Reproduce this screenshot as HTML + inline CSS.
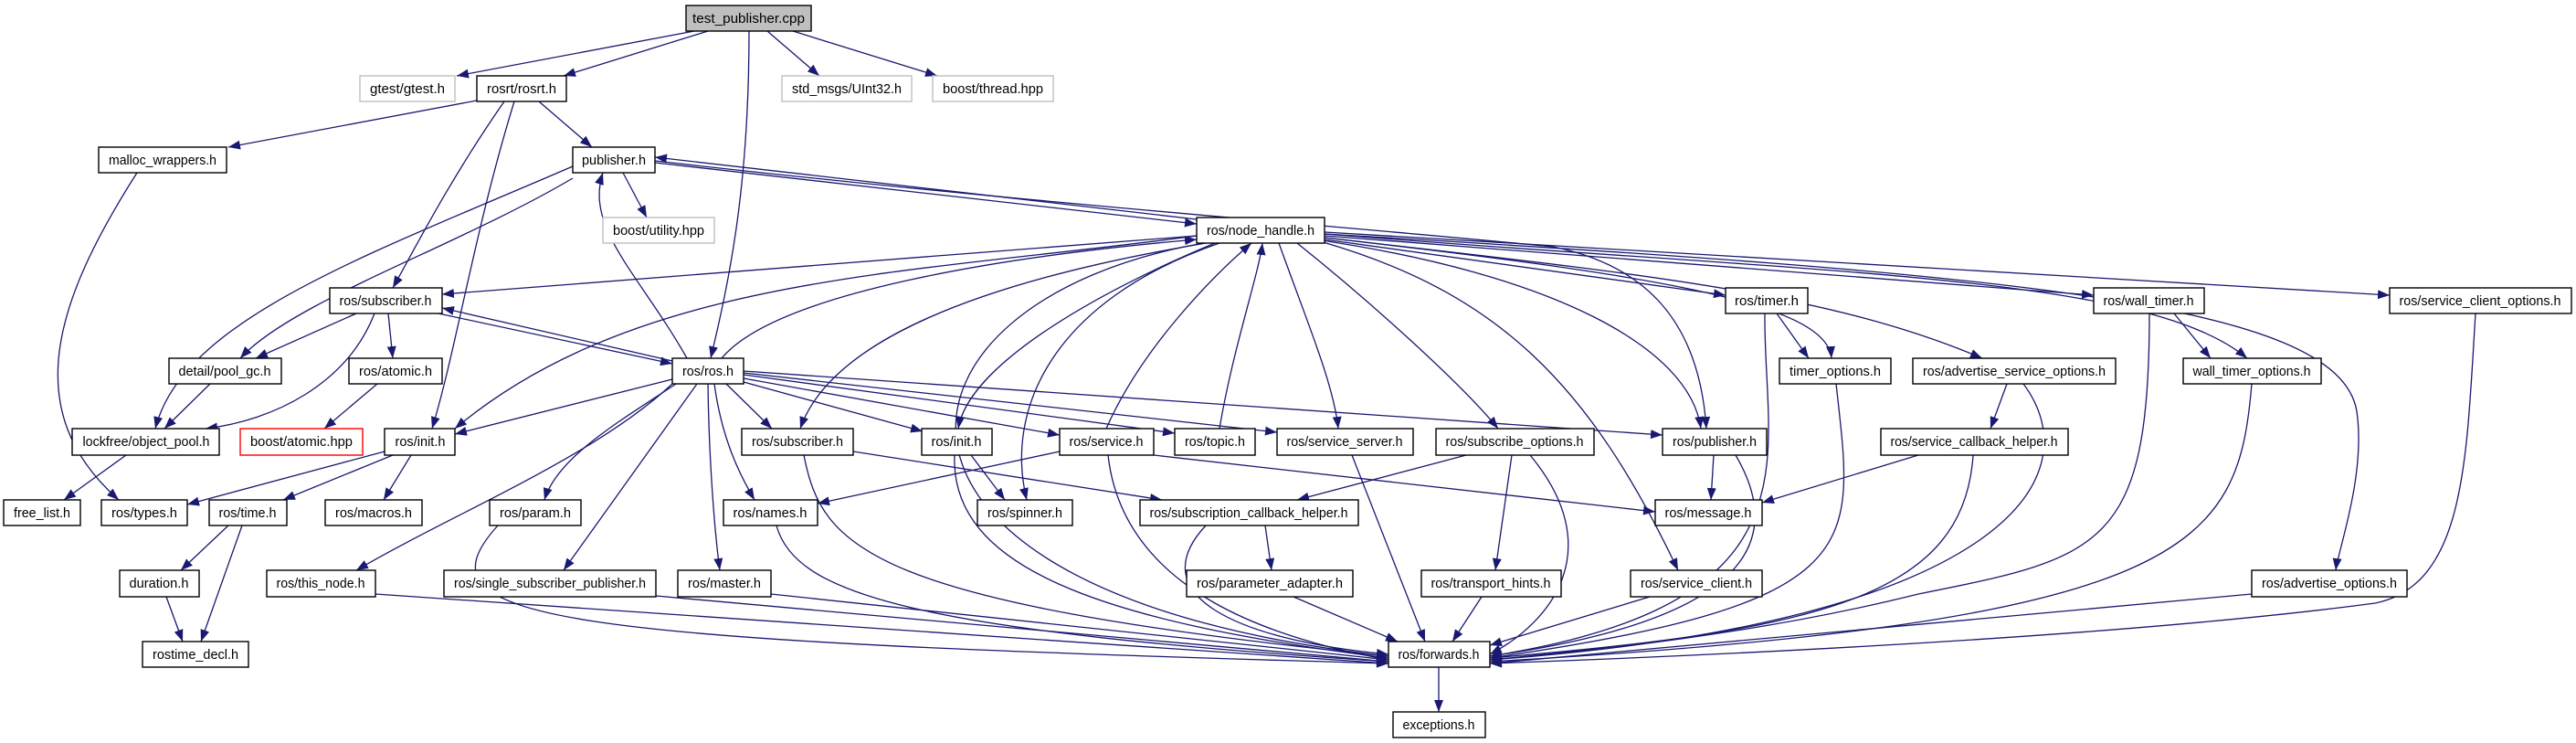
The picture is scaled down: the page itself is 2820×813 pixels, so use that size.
<!DOCTYPE html>
<html><head><meta charset="utf-8"><style>
html,body{margin:0;padding:0;background:#fff;}
svg{display:block;}
text{font-family:"Liberation Sans",sans-serif;font-size:15px;fill:#000;}
.e{fill:none;stroke:#191970;stroke-width:1.3;marker-end:url(#a);}
.n{fill:#fff;stroke:#000;stroke-width:1.4;}
.g{fill:#fff;stroke:#bfbfbf;stroke-width:1.4;}
</style></head><body>
<svg width="2820" height="813" viewBox="0 0 2820 813" xmlns="http://www.w3.org/2000/svg">
<defs><marker id="a" markerUnits="userSpaceOnUse" markerWidth="14" markerHeight="10" refX="13" refY="5" orient="auto"><path d="M0,0 L13,5 L0,10 z" fill="#191970"/></marker></defs>
<g>
<path class="e" d="M760,34 L500,83"/>
<path class="e" d="M775,34 L617,83"/>
<path class="e" d="M820,34 C820,200 800,300 778,392"/>
<path class="e" d="M840,34 L897,83"/>
<path class="e" d="M868,34 L1026,83"/>
<path class="e" d="M522,110 L250,161"/>
<path class="e" d="M590,111 L648,161"/>
<path class="e" d="M552,111 C490,200 450,280 430,315"/>
<path class="e" d="M563,111 C520,250 500,380 473,469"/>
<path class="e" d="M150,189 C60,330 20,450 130,547"/>
<path class="e" d="M682,189 L708,238"/>
<path class="e" d="M717,178 L1310,245"/>
<path class="e" d="M1310,240 L717,172"/>
<path class="e" d="M627,195 C500,270 320,330 263,392"/>
<path class="e" d="M627,182 C400,280 200,350 170,469"/>
<path class="e" d="M717,176 C1100,220 1500,250 1700,270 C1800,290 1860,350 1868,469"/>
<path class="e" d="M1310,258 L484,322"/>
<path class="e" d="M790,392 C850,320 1100,280 1310,262"/>
<path class="e" d="M1310,258 C1000,300 700,300 498,469"/>
<path class="e" d="M1320,266 C1000,320 900,400 876,469"/>
<path class="e" d="M1330,266 C1200,320 1060,400 1049,469"/>
<path class="e" d="M1335,266 C1150,330 1100,450 1124,547"/>
<path class="e" d="M1318,266 C950,330 900,650 1520,718"/>
<path class="e" d="M1211,469 C1250,380 1330,300 1370,266"/>
<path class="e" d="M1335,469 C1350,380 1378,300 1382,266"/>
<path class="e" d="M1400,266 C1430,350 1460,420 1465,469"/>
<path class="e" d="M1420,266 C1500,330 1600,420 1640,469"/>
<path class="e" d="M1440,262 C1700,300 1850,380 1862,469"/>
<path class="e" d="M1445,264 C1640,320 1740,420 1837,624"/>
<path class="e" d="M1450,262 L1889,323"/>
<path class="e" d="M1450,260 C1800,300 2000,330 2005,392"/>
<path class="e" d="M1450,260 C1800,300 2000,320 2170,392"/>
<path class="e" d="M1450,258 L2292,323"/>
<path class="e" d="M1450,256 C2000,300 2350,300 2460,392"/>
<path class="e" d="M1450,256 C2200,300 2560,330 2580,450 C2590,520 2560,600 2557,624"/>
<path class="e" d="M1450,254 L2616,323"/>
<path class="e" d="M390,343 L280,392"/>
<path class="e" d="M425,343 L430,392"/>
<path class="e" d="M410,343 C380,420 300,460 225,469"/>
<path class="e" d="M480,343 L736,398"/>
<path class="e" d="M736,395 L484,337"/>
<path class="e" d="M230,420 L180,469"/>
<path class="e" d="M413,420 L355,469"/>
<path class="e" d="M138,498 L70,547"/>
<path class="e" d="M752,392 C700,300 640,250 660,189"/>
<path class="e" d="M736,415 L498,475"/>
<path class="e" d="M795,420 L845,469"/>
<path class="e" d="M814,418 L1010,472"/>
<path class="e" d="M814,414 L1160,476"/>
<path class="e" d="M814,410 L1286,474"/>
<path class="e" d="M814,408 L1398,473"/>
<path class="e" d="M814,406 L1820,476"/>
<path class="e" d="M740,420 C680,460 610,500 596,547"/>
<path class="e" d="M782,420 C790,480 810,520 826,547"/>
<path class="e" d="M736,420 C650,500 500,560 390,624"/>
<path class="e" d="M763,420 L617,624"/>
<path class="e" d="M775,420 C776,500 782,580 788,624"/>
<path class="e" d="M421,494 L205,552"/>
<path class="e" d="M430,498 L310,547"/>
<path class="e" d="M450,498 L420,547"/>
<path class="e" d="M250,575 L198,624"/>
<path class="e" d="M265,575 L220,702"/>
<path class="e" d="M182,653 L200,702"/>
<path class="e" d="M934,494 L1272,547"/>
<path class="e" d="M880,498 C900,600 950,660 1520,718"/>
<path class="e" d="M1063,498 L1100,547"/>
<path class="e" d="M1045,498 C1040,620 1200,680 1520,720"/>
<path class="e" d="M1160,494 L895,551"/>
<path class="e" d="M1263,498 L1812,560"/>
<path class="e" d="M1213,498 C1230,650 1400,700 1520,722"/>
<path class="e" d="M1480,498 L1560,702"/>
<path class="e" d="M1605,498 L1420,547"/>
<path class="e" d="M1655,498 L1637,624"/>
<path class="e" d="M1675,498 C1760,600 1700,680 1631,716"/>
<path class="e" d="M1876,498 L1873,547"/>
<path class="e" d="M1900,498 C1960,600 1900,680 1631,718"/>
<path class="e" d="M2100,498 L1929,550"/>
<path class="e" d="M2160,498 C2150,650 2000,690 1631,720"/>
<path class="e" d="M2197,420 L2179,469"/>
<path class="e" d="M2215,420 C2290,520 2200,680 1631,722"/>
<path class="e" d="M1945,343 L1980,392"/>
<path class="e" d="M1932,343 C1930,500 2000,660 1631,718"/>
<path class="e" d="M2010,420 C2030,600 2050,660 1631,720"/>
<path class="e" d="M2380,343 L2420,392"/>
<path class="e" d="M2353,343 C2353,600 2300,610 2100,650 C1900,700 1700,715 1631,722"/>
<path class="e" d="M2465,420 C2450,600 2400,680 1631,724"/>
<path class="e" d="M2710,343 C2700,500 2700,640 2600,660 C2300,700 1800,720 1631,726"/>
<path class="e" d="M2465,650 L1631,726"/>
<path class="e" d="M1385,575 L1392,624"/>
<path class="e" d="M1320,575 C1250,650 1350,700 1520,716"/>
<path class="e" d="M1416,653 L1530,702"/>
<path class="e" d="M1622,653 L1590,702"/>
<path class="e" d="M1806,653 L1631,706"/>
<path class="e" d="M850,575 C870,650 1000,690 1520,724"/>
<path class="e" d="M545,575 C450,680 600,700 1520,726"/>
<path class="e" d="M411,650 L1520,726"/>
<path class="e" d="M718,652 L1520,724"/>
<path class="e" d="M844,650 L1520,722"/>
<path class="e" d="M1575,730 L1575,779"/>
</g>
<g>
<rect x="751" y="6" width="137" height="28" fill="#bfbfbf" stroke="#000" stroke-width="1.4"/><text x="819.5" y="25" text-anchor="middle" textLength="123" lengthAdjust="spacingAndGlyphs">test_publisher.cpp</text>
<rect class="g" x="394" y="83" width="104" height="28"/><text x="446" y="102" text-anchor="middle" textLength="82" lengthAdjust="spacingAndGlyphs">gtest/gtest.h</text>
<rect class="n" x="522" y="83" width="98" height="28"/><text x="571" y="102" text-anchor="middle" textLength="76" lengthAdjust="spacingAndGlyphs">rosrt/rosrt.h</text>
<rect class="g" x="856" y="83" width="142" height="28"/><text x="927" y="102" text-anchor="middle" textLength="120" lengthAdjust="spacingAndGlyphs">std_msgs/UInt32.h</text>
<rect class="g" x="1021" y="83" width="132" height="28"/><text x="1087" y="102" text-anchor="middle" textLength="110" lengthAdjust="spacingAndGlyphs">boost/thread.hpp</text>
<rect class="n" x="108" y="161" width="140" height="28"/><text x="178" y="180" text-anchor="middle" textLength="118" lengthAdjust="spacingAndGlyphs">malloc_wrappers.h</text>
<rect class="n" x="627" y="161" width="90" height="28"/><text x="672" y="180" text-anchor="middle" textLength="70" lengthAdjust="spacingAndGlyphs">publisher.h</text>
<rect class="g" x="660" y="238" width="122" height="28"/><text x="721" y="257" text-anchor="middle" textLength="100" lengthAdjust="spacingAndGlyphs">boost/utility.hpp</text>
<rect class="n" x="1310" y="238" width="140" height="28"/><text x="1380" y="257" text-anchor="middle" textLength="118" lengthAdjust="spacingAndGlyphs">ros/node_handle.h</text>
<rect class="n" x="361" y="315" width="123" height="28"/><text x="422" y="334" text-anchor="middle" textLength="101" lengthAdjust="spacingAndGlyphs">ros/subscriber.h</text>
<rect class="n" x="1889" y="315" width="90" height="28"/><text x="1934" y="334" text-anchor="middle" textLength="70" lengthAdjust="spacingAndGlyphs">ros/timer.h</text>
<rect class="n" x="2292" y="315" width="121" height="28"/><text x="2352" y="334" text-anchor="middle" textLength="99" lengthAdjust="spacingAndGlyphs">ros/wall_timer.h</text>
<rect class="n" x="2616" y="315" width="199" height="28"/><text x="2715" y="334" text-anchor="middle" textLength="177" lengthAdjust="spacingAndGlyphs">ros/service_client_options.h</text>
<rect class="n" x="185" y="392" width="123" height="28"/><text x="246" y="411" text-anchor="middle" textLength="101" lengthAdjust="spacingAndGlyphs">detail/pool_gc.h</text>
<rect class="n" x="382" y="392" width="102" height="28"/><text x="433" y="411" text-anchor="middle" textLength="80" lengthAdjust="spacingAndGlyphs">ros/atomic.h</text>
<rect class="n" x="736" y="392" width="78" height="28"/><text x="775" y="411" text-anchor="middle" textLength="56" lengthAdjust="spacingAndGlyphs">ros/ros.h</text>
<rect class="n" x="1948" y="392" width="122" height="28"/><text x="2009" y="411" text-anchor="middle" textLength="100" lengthAdjust="spacingAndGlyphs">timer_options.h</text>
<rect class="n" x="2094" y="392" width="222" height="28"/><text x="2205" y="411" text-anchor="middle" textLength="200" lengthAdjust="spacingAndGlyphs">ros/advertise_service_options.h</text>
<rect class="n" x="2390" y="392" width="151" height="28"/><text x="2465" y="411" text-anchor="middle" textLength="129" lengthAdjust="spacingAndGlyphs">wall_timer_options.h</text>
<rect class="n" x="79" y="469" width="161" height="29"/><text x="160" y="488" text-anchor="middle" textLength="139" lengthAdjust="spacingAndGlyphs">lockfree/object_pool.h</text>
<rect x="263" y="469" width="134" height="29" fill="#fff" stroke="#ff0000" stroke-width="1.4"/><text x="330" y="488" text-anchor="middle" textLength="112" lengthAdjust="spacingAndGlyphs">boost/atomic.hpp</text>
<rect class="n" x="421" y="469" width="77" height="29"/><text x="460" y="488" text-anchor="middle" textLength="55" lengthAdjust="spacingAndGlyphs">ros/init.h</text>
<rect class="n" x="812" y="469" width="122" height="29"/><text x="873" y="488" text-anchor="middle" textLength="100" lengthAdjust="spacingAndGlyphs">ros/subscriber.h</text>
<rect class="n" x="1009" y="469" width="77" height="29"/><text x="1047" y="488" text-anchor="middle" textLength="55" lengthAdjust="spacingAndGlyphs">ros/init.h</text>
<rect class="n" x="1160" y="469" width="103" height="29"/><text x="1211" y="488" text-anchor="middle" textLength="81" lengthAdjust="spacingAndGlyphs">ros/service.h</text>
<rect class="n" x="1286" y="469" width="88" height="29"/><text x="1330" y="488" text-anchor="middle" textLength="66" lengthAdjust="spacingAndGlyphs">ros/topic.h</text>
<rect class="n" x="1398" y="469" width="149" height="29"/><text x="1472" y="488" text-anchor="middle" textLength="127" lengthAdjust="spacingAndGlyphs">ros/service_server.h</text>
<rect class="n" x="1572" y="469" width="173" height="29"/><text x="1658" y="488" text-anchor="middle" textLength="151" lengthAdjust="spacingAndGlyphs">ros/subscribe_options.h</text>
<rect class="n" x="1820" y="469" width="114" height="29"/><text x="1877" y="488" text-anchor="middle" textLength="92" lengthAdjust="spacingAndGlyphs">ros/publisher.h</text>
<rect class="n" x="2059" y="469" width="205" height="29"/><text x="2161" y="488" text-anchor="middle" textLength="183" lengthAdjust="spacingAndGlyphs">ros/service_callback_helper.h</text>
<rect class="n" x="4" y="547" width="84" height="28"/><text x="46" y="566" text-anchor="middle" textLength="62" lengthAdjust="spacingAndGlyphs">free_list.h</text>
<rect class="n" x="111" y="547" width="94" height="28"/><text x="158" y="566" text-anchor="middle" textLength="72" lengthAdjust="spacingAndGlyphs">ros/types.h</text>
<rect class="n" x="229" y="547" width="85" height="28"/><text x="271" y="566" text-anchor="middle" textLength="63" lengthAdjust="spacingAndGlyphs">ros/time.h</text>
<rect class="n" x="356" y="547" width="106" height="28"/><text x="409" y="566" text-anchor="middle" textLength="84" lengthAdjust="spacingAndGlyphs">ros/macros.h</text>
<rect class="n" x="536" y="547" width="100" height="28"/><text x="586" y="566" text-anchor="middle" textLength="78" lengthAdjust="spacingAndGlyphs">ros/param.h</text>
<rect class="n" x="792" y="547" width="103" height="28"/><text x="843" y="566" text-anchor="middle" textLength="81" lengthAdjust="spacingAndGlyphs">ros/names.h</text>
<rect class="n" x="1070" y="547" width="104" height="28"/><text x="1122" y="566" text-anchor="middle" textLength="82" lengthAdjust="spacingAndGlyphs">ros/spinner.h</text>
<rect class="n" x="1248" y="547" width="239" height="28"/><text x="1367" y="566" text-anchor="middle" textLength="217" lengthAdjust="spacingAndGlyphs">ros/subscription_callback_helper.h</text>
<rect class="n" x="1812" y="547" width="117" height="28"/><text x="1870" y="566" text-anchor="middle" textLength="95" lengthAdjust="spacingAndGlyphs">ros/message.h</text>
<rect class="n" x="131" y="624" width="87" height="29"/><text x="174" y="643" text-anchor="middle" textLength="65" lengthAdjust="spacingAndGlyphs">duration.h</text>
<rect class="n" x="292" y="624" width="119" height="29"/><text x="351" y="643" text-anchor="middle" textLength="97" lengthAdjust="spacingAndGlyphs">ros/this_node.h</text>
<rect class="n" x="486" y="624" width="232" height="29"/><text x="602" y="643" text-anchor="middle" textLength="210" lengthAdjust="spacingAndGlyphs">ros/single_subscriber_publisher.h</text>
<rect class="n" x="742" y="624" width="102" height="29"/><text x="793" y="643" text-anchor="middle" textLength="80" lengthAdjust="spacingAndGlyphs">ros/master.h</text>
<rect class="n" x="1299" y="624" width="182" height="29"/><text x="1390" y="643" text-anchor="middle" textLength="160" lengthAdjust="spacingAndGlyphs">ros/parameter_adapter.h</text>
<rect class="n" x="1556" y="624" width="153" height="29"/><text x="1632" y="643" text-anchor="middle" textLength="131" lengthAdjust="spacingAndGlyphs">ros/transport_hints.h</text>
<rect class="n" x="1785" y="624" width="144" height="29"/><text x="1857" y="643" text-anchor="middle" textLength="122" lengthAdjust="spacingAndGlyphs">ros/service_client.h</text>
<rect class="n" x="2465" y="624" width="170" height="29"/><text x="2550" y="643" text-anchor="middle" textLength="148" lengthAdjust="spacingAndGlyphs">ros/advertise_options.h</text>
<rect class="n" x="156" y="702" width="116" height="28"/><text x="214" y="721" text-anchor="middle" textLength="94" lengthAdjust="spacingAndGlyphs">rostime_decl.h</text>
<rect class="n" x="1520" y="702" width="111" height="28"/><text x="1575" y="721" text-anchor="middle" textLength="89" lengthAdjust="spacingAndGlyphs">ros/forwards.h</text>
<rect class="n" x="1525" y="779" width="101" height="28"/><text x="1575" y="798" text-anchor="middle" textLength="79" lengthAdjust="spacingAndGlyphs">exceptions.h</text>
</g>
</svg>
</body></html>
